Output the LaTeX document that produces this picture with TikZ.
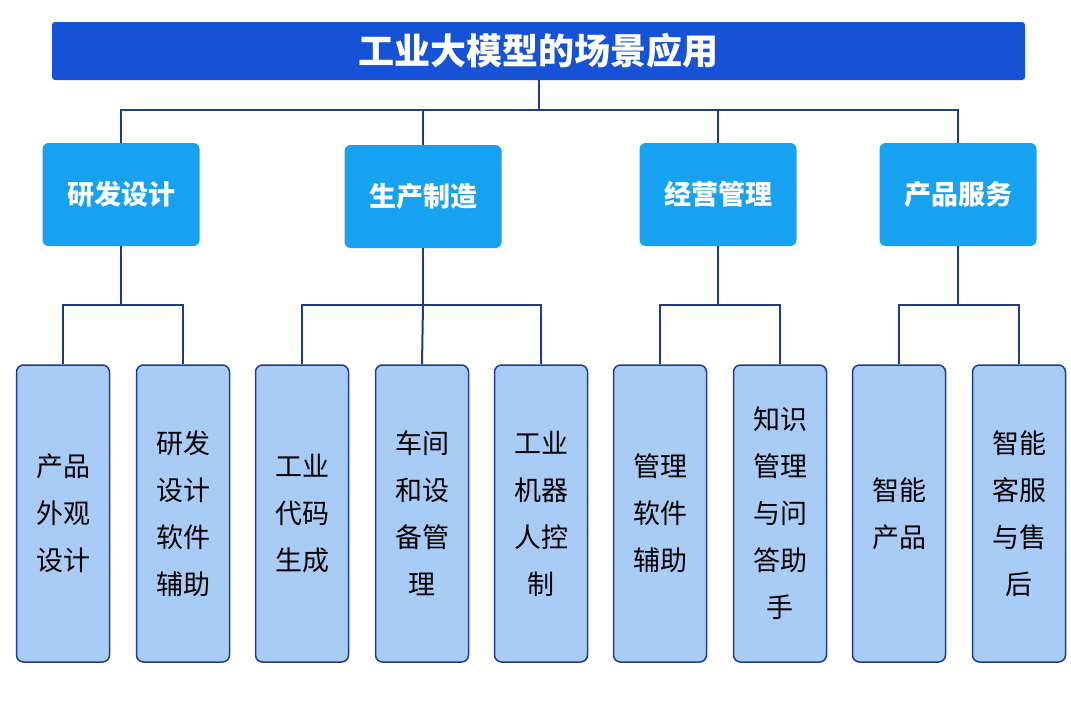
\documentclass[tikz,border=0pt]{standalone}
\usepackage{fontspec}
\setmainfont{Noto Sans CJK SC}
\newfontfamily\cjkb[BoldFont={Noto Sans CJK SC Bold}]{Noto Sans CJK SC}
\definecolor{titlebg}{HTML}{1552D6}
\definecolor{midbg}{HTML}{16A2F0}
\definecolor{leafbg}{HTML}{A9CCF7}
\definecolor{navy}{HTML}{1E3C88}
\begin{document}
\begin{tikzpicture}[x=1pt,y=-1pt,
  title/.style={draw=none,fill=titlebg,rounded corners=3pt,minimum width=973pt,minimum height=58pt,text=white,font=\fontsize{36}{40}\selectfont\bfseries},
  mid/.style={fill=midbg,rounded corners=6pt,minimum width=157pt,minimum height=103pt,text=white,font=\fontsize{27}{30}\selectfont\bfseries},
  leaf/.style={draw=navy,line width=1.5pt,fill=leafbg,rounded corners=7pt,minimum width=93pt,minimum height=297pt,align=center,font=\fontsize{27}{47}\selectfont},
  conn/.style={draw=navy,line width=2pt}]
\useasboundingbox (0,0) rectangle (1071,720);
\node[title] (t) at (538.5,51) {工业大模型的场景应用};
\node[mid] (m1) at (121,194.5) {研发设计};
\node[mid] (m2) at (423,196.5) {生产制造};
\node[mid] (m3) at (718,194.5) {经营管理};
\node[mid] (m4) at (958,194.5) {产品服务};
\foreach \n/\x/\txt in {l1/63/{产品\\外观\\设计}, l2/183/{研发\\设计\\软件\\辅助}, l3/302/{工业\\代码\\生成}, l4/422/{车间\\和设\\备管\\理}, l5/541/{工业\\机器\\人控\\制}, l6/660/{管理\\软件\\辅助}, l7/780/{知识\\管理\\与问\\答助\\手}, l8/899/{智能\\产品}, l9/1019/{智能\\客服\\与售\\后}}
  \node[leaf] (\n) at (\x,513.5) {\txt};
\coordinate (hub) at (538.5,110);
\draw[conn] (t.south) -- (hub);
\draw[conn] (m1.north) -- (121,110) -- (958,110) -- (m4.north);
\draw[conn] (423,110) -- (m2.north);
\draw[conn] (718,110) -- (m3.north);
\draw[conn] (m1.south) -- (121,305);
\draw[conn] (l1.north) -- (63,305) -- (183,305) -- (l2.north);
\draw[conn] (m2.south) -- (423,305);
\draw[conn] (l3.north) -- (302,305) -- (541,305) -- (l5.north);
\draw[conn] (423,305) -- (l4.north);
\draw[conn] (m3.south) -- (718,305);
\draw[conn] (l6.north) -- (660,305) -- (780,305) -- (l7.north);
\draw[conn] (m4.south) -- (958,305);
\draw[conn] (l8.north) -- (899,305) -- (1019,305) -- (l9.north);
\end{tikzpicture}
\end{document}
